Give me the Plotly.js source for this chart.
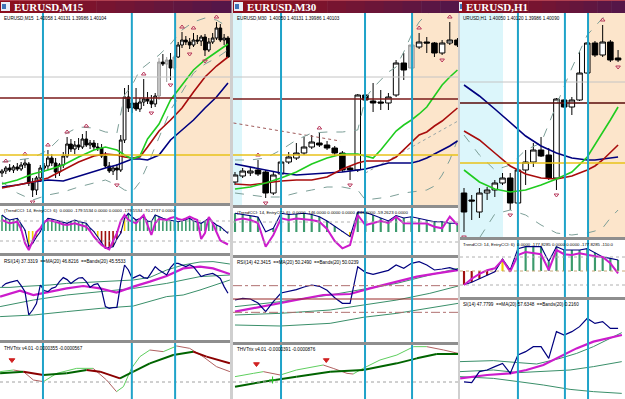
<!DOCTYPE html>
<html><head><meta charset="utf-8">
<script src="https://cdn.plot.ly/plotly-3.0.1.min.js"></script>
<style>html,body{margin:0;padding:0;background:#fff}#chart{width:625px;height:399px}</style>
</head><body><div id="chart"></div>
<script>
// ================= DATA : EURUSD M15 =================
const m15Open  = [1.3897,1.3899,1.3902,1.3900,1.3903,1.3901,1.3905,1.3906,1.3887,1.3880,1.3892,1.3902,1.3904,1.3912,1.3907,1.3898,1.3905,1.3914,1.3926,1.3921,1.3925,1.3923,1.3931,1.3925,1.3927,1.3923,1.3922,1.3914,1.3904,1.3899,1.3902,1.3900,1.3930,1.3973,1.3962,1.3967,1.3961,1.3968,1.3971,1.3969,1.3966,1.3974,1.4008,1.4006,1.4010,1.4002,1.4013,1.4025,1.4030,1.4028,1.4025,1.4030,1.4029,1.4033,1.4020,1.4028,1.4032,1.4042,1.4030,1.4032];
const m15High  = [1.3901,1.3904,1.3906,1.3905,1.3907,1.3908,1.3911,1.3908,1.3892,1.3894,1.3905,1.3907,1.3920,1.3916,1.3912,1.3907,1.3918,1.3933,1.3931,1.3929,1.3932,1.3936,1.3939,1.3930,1.3930,1.3927,1.3926,1.3918,1.3908,1.3904,1.3906,1.3935,1.3982,1.3985,1.3971,1.3982,1.3972,1.3991,1.3978,1.3975,1.3977,1.4012,1.4016,1.4013,1.4017,1.4015,1.4028,1.4038,1.4034,1.4032,1.4037,1.4035,1.4035,1.4036,1.4032,1.4037,1.4048,1.4046,1.4036,1.4034];
const m15Low   = [1.3893,1.3896,1.3898,1.3897,1.3899,1.3899,1.3902,1.3884,1.3873,1.3875,1.3888,1.3898,1.3900,1.3904,1.3892,1.3894,1.3902,1.3912,1.3918,1.3916,1.3920,1.3921,1.3923,1.3921,1.3920,1.3919,1.3912,1.3902,1.3897,1.3895,1.3890,1.3898,1.3927,1.3958,1.3957,1.3959,1.3958,1.3964,1.3966,1.3962,1.3963,1.3970,1.4004,1.3988,1.3990,1.4000,1.4012,1.4022,1.4025,1.4021,1.4023,1.4026,1.4024,1.4014,1.4018,1.4026,1.4030,1.4028,1.4025,1.4012];
const m15Close = [1.3899,1.3902,1.3900,1.3903,1.3901,1.3905,1.3907,1.3887,1.3880,1.3892,1.3902,1.3904,1.3912,1.3907,1.3898,1.3905,1.3914,1.3926,1.3921,1.3925,1.3923,1.3931,1.3925,1.3927,1.3923,1.3922,1.3914,1.3904,1.3899,1.3902,1.3900,1.3930,1.3973,1.3962,1.3967,1.3961,1.3968,1.3971,1.3969,1.3966,1.3974,1.4008,1.4006,1.4010,1.4002,1.4013,1.4025,1.4030,1.4028,1.4025,1.4030,1.4029,1.4033,1.4020,1.4028,1.4032,1.4042,1.4030,1.4032,1.4013];
const m15GrayBars = [41,43,45];
const m15FractalUp = [1,6,12,17,22,37,47,50,56];
const m15FractalDown = [8,30,39,44,49,53];
const m15MaX     = [0,4,8,12,16,20,24,27,30,32,34,36,38,41,44,47,50,53,56,59];
const m15MaFast  = [1.3886,1.3890,1.3896,1.3900,1.3905,1.3913,1.3920,1.3923,1.3920,1.3915,1.3911,1.3914,1.3931,1.3946,1.3970,1.3985,1.4000,1.4010,1.4018,1.4026];
const m15MaMid   = [1.3882,1.3885,1.3888,1.3892,1.3900,1.3908,1.3914,1.3916,1.3915,1.3913,1.3912,1.3913,1.3923,1.3939,1.3950,1.3962,1.3978,1.3993,1.4004,1.4013];
const m15MaSlow  = [1.3883,1.3885,1.3888,1.3890,1.3889,1.3894,1.3899,1.3902,1.3905,1.3908,1.3911,1.3911,1.3910,1.3915,1.3930,1.3940,1.3950,1.3962,1.3973,1.3987];
const m15BandUp  = [1.3908,1.3910,1.3912,1.3920,1.3935,1.3943,1.3942,1.3938,1.3937,1.3975,1.3985,1.4000,1.4006,1.4015,1.4026,1.4040,1.4048,1.4052,1.4050,1.4043];
const m15BandLow = [1.3888,1.3877,1.3870,1.3875,1.3878,1.3883,1.3887,1.3890,1.3885,1.3880,1.3878,1.3888,1.3905,1.3932,1.3960,1.3978,1.3997,1.4006,1.4012,1.4020];
const m15Levels  = [1.3993,1.3972,1.3915];          // gray, maroon, yellow
const m15Sessions = [10.7,33.9,45.2];
const m15PeachFrom = 45.2;
const m15TrendCci = [160,130,110,120,127,70,10,-157,-123,-60,-7,80,127,120,110,95,85,77,95,110,95,85,77,30,-7,-60,-120,-173,-165,-157,-80,-23,127,177,140,110,125,143,100,93,160,140,127,115,110,100,93,100,115,127,100,85,77,100,127,90,60,43,10,-23];
const m15EntryCci = [110,90,77,85,93,20,-120,-190,-107,-10,27,90,110,105,93,80,65,60,70,77,65,55,43,0,-57,-100,-140,-165,-183,-100,-23,100,160,110,90,77,120,160,60,-40,80,120,115,110,130,140,120,110,125,143,125,110,-80,-20,140,80,-10,-95,-115,-135];
const m15CciYellow = [7,8,9,24,25,32];
const m15CciGray = [59];
const m15Rsi = [40.5,42,42.6,43,43.6,41,38,26.3,28.8,32,41.3,38.5,38,39.6,40.3,43,45,44,42.1,43.5,44.8,45,43,40.1,41.5,42,38.8,30.5,29.6,30,30.1,42.1,51.3,48.8,44.6,45.5,46.3,45,44.6,47.5,50.5,48.8,47.5,46.3,50,52.1,52.1,51.3,50.5,51.5,50.5,48,45.5,46.3,46.8,47.1,46,44.6,40.5,37.2];
const m15RsiMaX = [-0.5,2.1,4.7,8.2,12.5,16.9,21.2,25.6,29.9,34.3,38.6,43,47.3,51.7,55.1,59.5];
const m15RsiMa  = [35.5,37.1,38.5,36.3,38,39.6,40.8,39.6,37.5,40.5,43,45.8,49.6,50.5,49.6,46.8];
const m15RsiBandUp = [40.1,40.1,40.5,40.8,41.3,42.1,42.5,43,43.5,43.8,45.1,48.8,51.3,52.8,53,51.8];
const m15RsiBandMidX = [-0.5,8.2,16.9,25.6,34.3,43,51.7,59.5];
const m15RsiBandMid  = [30.5,33.8,36.3,38,39.6,42.1,45.5,46.3];
const m15RsiBandLowX = [-0.5,8.2,16.9,25.6,34.3,43,47.3,51.7,59.5];
const m15RsiBandLow  = [25.5,26.3,28,29.6,30.8,35.5,36.3,38.8,43.8];
const m15TrixX = [-0.5,5.6,10.8,16.9,22.1,25.6,30.8,34.3,38.6,44.7,49.9,53.4,59.5];
const m15Trix  = [1.73,2.07,1.4,1.73,2.4,2.07,0.73,2.07,3.73,5.4,6.07,5.07,3.73];
const m15TrixSigX = [-0.5,3,5.6,8.2,10.8,14.3,19.5,23.8,27.3,29.9,31.7,33.8,36,38.6,42.1,45.6,49,52.5,56,59.5];
const m15TrixSig  = [2.07,2.4,2.07,0.4,0.07,1.73,2.73,2.73,0.4,-1.93,-0.93,2.73,5.07,6.4,6.07,7.2,6.73,5.07,3.07,2.07];
const m15TrixSell = [[2.6,4.4]];

// ================= DATA : EURUSD M30 =================
const m30Open  = [1.3888,1.3894,1.3897,1.3900,1.3898,1.3877,1.3896,1.3908,1.3912,1.3917,1.3923,1.3927,1.3925,1.3922,1.3917,1.3902,1.3900,1.3975,1.3969,1.3968,1.3967,1.3975,1.4007,1.4002,1.4023,1.4028,1.4027,1.4017,1.4027,1.4030];
const m30High  = [1.3898,1.3902,1.3903,1.3910,1.3900,1.3898,1.3910,1.3918,1.3927,1.3933,1.3935,1.3937,1.3929,1.3924,1.3919,1.3904,1.3976,1.3977,1.3987,1.3980,1.3977,1.4010,1.4017,1.4028,1.4037,1.4033,1.4028,1.4030,1.4048,1.4032];
const m30Low   = [1.3885,1.3892,1.3894,1.3894,1.3872,1.3875,1.3894,1.3906,1.3910,1.3915,1.3921,1.3923,1.3920,1.3914,1.3898,1.3890,1.3898,1.3968,1.3958,1.3960,1.3960,1.3973,1.3990,1.4000,1.4021,1.4017,1.4013,1.4015,1.4025,1.4023];
const m30Close = [1.3895,1.3899,1.3899,1.3896,1.3877,1.3895,1.3908,1.3913,1.3917,1.3923,1.3928,1.3925,1.3922,1.3917,1.3900,1.3900,1.3975,1.3970,1.3967,1.3967,1.3973,1.4007,1.4000,1.4025,1.4028,1.4027,1.4017,1.4027,1.4030,1.4025];
const m30GrayBars = [23];
const m30FractalUp = [3,11,24,28];
const m30FractalDown = [4,15,27];
const m30MaX     = [0,2,4,6,8,10,12,14,16,17,18,19,20,21,22,23,24,25,26,27,28,29];
const m30MaFast  = [1.3881,1.3883,1.3887,1.3892,1.3898,1.3906,1.3912,1.3916,1.3916,1.3914,1.3912,1.3920,1.3930,1.3939,1.3945,1.3950,1.3956,1.3963,1.3974,1.3985,1.3993,1.4000];
const m30MaMid   = [1.3886,1.3885,1.3887,1.3889,1.3890,1.3890,1.3893,1.3901,1.3907,1.3909,1.3909,1.3909,1.3909,1.3913,1.3920,1.3927,1.3935,1.3938,1.3944,1.3949,1.3956,1.3962];
const m30MaSlow  = [1.3906,1.3903,1.3900,1.3897,1.3895,1.3896,1.3897,1.3898,1.3900,1.3901,1.3903,1.3905,1.3907,1.3907,1.3907,1.3907,1.3909,1.3912,1.3916,1.3920,1.3924,1.3929];
const m30BandUp  = [1.3910,1.3910,1.3912,1.3920,1.3930,1.3937,1.3938,1.3938,1.3940,1.3972,1.3982,1.3990,1.3998,1.4003,1.4018,1.4035,1.4048,1.4056,1.4062,1.4066,1.4068,1.4070];
const m30BandLow = [1.3877,1.3875,1.3873,1.3873,1.3877,1.3880,1.3883,1.3883,1.3880,1.3870,1.3871,1.3872,1.3873,1.3875,1.3877,1.3878,1.3879,1.3880,1.3884,1.3895,1.3910,1.3930];
const m30TrendA = {x:[-0.2,13.7], y:[1.3947,1.3929]};
const m30TrendB = {x:[17,29.3], y:[1.3897,1.3950]};
const m30Levels  = [1.3993,1.3971,1.3915];
const m30Sessions = [6.0,16.95,23.08];
const m30CyanTo = 0.91;
const m30PeachFrom = 23.08;
const m30TrendCci = [187,175,160,150,3,37,187,175,180,187,175,153,110,60,10,-47,200,195,170,140,110,165,140,153,137,120,103,103,87,87];
const m30EntryCci = [120,135,120,90,-147,-30,137,120,135,130,120,103,30,-90,-163,-130,170,70,87,110,90,153,87,87,87,85,53,37,153,70];
const m30CciYellow = [15];
const m30Rsi = [49.25,50.5,50,47,40.5,48,54.5,55.5,57,59,60.5,59.5,56.5,51,46.75,46.75,74.25,70,68.5,70,71.5,75.5,73,76.75,78,75.5,71.75,72.5,73.5,71.75];
const m30RsiMaX = [0,3.7,8,11.5,15,17.6,21.1,23.7,26.3,29.1];
const m30RsiMa  = [40.5,44.75,49.25,53,53.75,58,63,66.75,69.25,71.75];
const m30RsiBandX = [0,5.9,12.4,16.7,21.1,25.4,29.1];
const m30RsiBandUp  = [44.25,48,53,57.25,61.75,68,73];
const m30RsiBandMid = [38,39.25,41.75,45.5,49.25,54.25,59.75];
const m30RsiBandLow = [30.5,29.75,31.75,36.25,39.25,43,46.75];
const m30RsiLevels = [60,50,40];
const m30TrixX = [0,3.7,8,12.4,16.7,21.1,23.7,26.3,29.1];
const m30Trix  = [-0.93,0.07,1.07,2.07,2.4,3.73,4.73,5.6,5.6];
const m30TrixSigX = [0,2.4,3.7,5.9,8,11.5,12.8,14.6,15.4,16.7,18.9,21.1,23.3,25,27.2,29.1];
const m30TrixSig  = [1.07,1.73,2.07,1.4,2.4,3.4,2.73,1.73,1.6,2.73,4.4,5.4,7.07,7.07,6.4,5.73];
const m30TrixSell = [[2.8,3.6],[11.9,4.4]];
const m30TrixBuy  = [[4.9,0.4]];

// ================= DATA : EURUSD H1 =================
const h1Open  = [1.3877,1.3870,1.3858,1.3877,1.3880,1.3887,1.3892,1.3867,1.3900,1.3908,1.3920,1.3915,1.3892,1.3970,1.3963,1.3970,1.3997,1.4027,1.4015,1.4028,1.4012];
const h1High  = [1.3882,1.3875,1.3882,1.3883,1.3890,1.3897,1.3897,1.3902,1.3920,1.3927,1.3933,1.3922,1.3972,1.3971,1.3973,1.4018,1.4028,1.4029,1.4045,1.4030,1.4020];
const h1Low   = [1.3838,1.3850,1.3852,1.3870,1.3873,1.3885,1.3860,1.3866,1.3885,1.3903,1.3913,1.3890,1.3880,1.3962,1.3955,1.3969,1.3996,1.4013,1.4013,1.4008,1.4008];
const h1Close = [1.3858,1.3869,1.3877,1.3880,1.3887,1.3892,1.3867,1.3900,1.3908,1.3920,1.3914,1.3892,1.3971,1.3963,1.3970,1.3997,1.4027,1.4015,1.4028,1.4010,1.4010];
const h1FractalUp = [18];
const h1FractalDown = [0,6,12,20];
const h1MaX    = [0,2,4,6,8,10,12,14,16,17,18,19,20];
const h1MaSlow = [1.3985,1.3974,1.3961,1.3947,1.3934,1.3924,1.3917,1.3912,1.3910,1.3910,1.3911,1.3912,1.3913];
const h1MaMid  = [1.3939,1.3930,1.3917,1.3904,1.3896,1.3892,1.3891,1.3894,1.3900,1.3904,1.3910,1.3918,1.3925];
const h1MaFast = [1.3900,1.3888,1.3881,1.3878,1.3880,1.3885,1.3891,1.3898,1.3913,1.3925,1.3937,1.3950,1.3963];
const h1BandUp  = [1.3935,1.3915,1.3900,1.3905,1.3920,1.3927,1.3965,1.4002,1.4035,1.4044,1.4052,1.4060,1.4065];
const h1BandLow = [1.3825,1.3832,1.3856,1.3860,1.3855,1.3845,1.3837,1.3835,1.3837,1.3839,1.3842,1.3852,1.3860];
const h1Levels  = [1.3988,1.3967,1.3907];
const h1Sessions = [7.0,13.1,16.1];
const h1CyanTo = 5.06;
const h1PeachFrom = 16.1;
const h1TrendCci = [-98,-80,-55,-30,-5,85,7,160,174,174,174,67,174,150,150,150,160,130,100,90,79];
const h1EntryCci = [-100,-55,-20,5,19,79,-5,114,135,130,120,7,150,120,114,126,114,105,100,55,-17];
const h1CciYellow = [5];
const h1Rsi = [34.5,33.9,42.7,44,46.7,49.3,41.3,56,58.7,62.7,62.7,53.3,74.7,72,74.7,78.7,85.3,81.3,82.7,77.3,77.3];
const h1RsiMaX = [-0.5,3,6,8.1,10.3,12.5,14.6,16.8,18.5,20.5];
const h1RsiMa  = [37.3,40,41.3,44,48,54.7,61.3,66.7,69.3,72];
const h1RsiBandUpX = [-0.52,3.81,7.06,9.44,12.47,14.63,16.8,18.96,20.48];
const h1RsiBandUp  = [50.7,51.5,49.9,48.8,53.3,57.3,62.7,69.3,73.9];
const h1RsiBandX   = [-0.52,3.81,7.06,10.3,13.77,16.8,20.48];
const h1RsiBandMid = [42.7,44,41.9,42.7,44,46.7,50.7];
const h1RsiBandLow = [38.7,37.3,34.7,32,28.5,26.7,25.3];

// ================= TEXT =================
const winTitles = ['EURUSD,M15','EURUSD,M30','EURUSD,H1'];
const mainLabels = ['EURUSD,M15  1.40058 1.40131 1.39986 1.40104','EURUSD,M30  1.40050 1.40131 1.39986 1.40103','URUSD,H1  1.40050 1.40120 1.39986 1.40090'];
const cciLabels = ['(TrendCCI: 14, EntryCCI: 6)  0.0000 -179.5534 0.0000 0.0000 -179.5534 -70.2737 0.0000','(TrendCCI: 14, EntryCCI: 6)  0.0000 -146.0000 0.0000 0.0000 -146.0000 -59.2623 0.0000','TrendCCI: 14, EntryCCI: 6)  0.0000 -177.8285 0.0000 0.0000 -177.8285 -110.0'];
const rsiLabels = ['RSI(14) 37.3319  ==MA(20) 46.8216  ==Bands(20) 45.5533','RSI(14) 42.3415  ==MA(20) 50.2490  ==Bands(20) 50.0239','SI(14) 47.7799  ==MA(20) 57.6348  ==Bands(20) 0.2160'];
const trixLabels = ['THVTrix v4.01 -0.0000355 -0.0000567','THVTrix v4.01 -0.0000391 -0.0000876'];

// ================= BUILD =================
const W = 625, H = 399;
const C = {green:'#1fcc1f', maroon:'#a80c0c', navy:'#00007f', band:'#7d9f98', magenta:'#cc1ccc', rsiBand:'#3a8f6a',
  cciG:'#3b9a6c', cciY:'#f0d000', cciR:'#a01010', fractal:'#b8385c', cyan:'#1fa3c9', peach:'#fce5cb', ice:'#dcf6fb'};
const idx = n => Array.from({length:n}, (_, i) => i);
const xAx = id => id === 1 ? 'x' : 'x' + id;
const yAx = id => id === 1 ? 'y' : 'y' + id;

// panel boxes (pixels): id, [left,right], [top,bottom], xrange, yrange
const panels = [
  [1, [0,230],   [13,203],  [-0.52,59.53], [1.3867,1.4057]],
  [2, [0,230],   [206,253], [-0.52,59.53], [-220,250]],
  [3, [0,230],   [256,340], [-0.52,59.53], [13.8,55.8]],
  [4, [0,230],   [343,399], [-0.52,59.53], [-3.4,7.8]],
  [5, [233,458], [13,205],  [-0.26,29.07], [1.3865,1.4057]],
  [6, [233,458], [208,255], [-0.26,29.07], [-230,240]],
  [7, [233,458], [258,342], [-0.26,29.07], [17.75,80.75]],
  [8, [233,458], [345,399], [-0.26,29.07], [-3.4,7.4]],
  [9, [460,625], [13,237],  [-0.52,20.9],  [1.3833,1.4057]],
  [10,[460,625], [240,297], [-0.52,20.9],  [-185.7,221.4]],
  [11,[460,625], [300,399], [-0.52,20.9],  [20.8,100]]
];

const layout = {width:W, height:H, margin:{l:0,r:0,t:0,b:0}, showlegend:false,
  paper_bgcolor:'#d4d4d4', plot_bgcolor:'#ffffff', boxgap:0.2, boxgroupgap:0.1,
  shapes:[], annotations:[], hovermode:false, dragmode:false};
panels.forEach(([id, xp, yp, xr, yr]) => {
  const xk = id === 1 ? 'xaxis' : 'xaxis' + id, yk = id === 1 ? 'yaxis' : 'yaxis' + id;
  layout[xk] = {domain:[xp[0]/W, xp[1]/W], range:xr, anchor:yAx(id), visible:false, fixedrange:true, rangeslider:{visible:false}};
  layout[yk] = {domain:[1-yp[1]/H, 1-yp[0]/H], range:yr, anchor:xAx(id), visible:false, fixedrange:true};
});

const traces = [];
function line(x, y, id, color, width, dash) {
  traces.push({type:'scatter', mode:'lines', x, y, xaxis:xAx(id), yaxis:yAx(id),
    line:{color, width, dash:dash||'solid'}, hoverinfo:'skip', connectgaps:false});
}
function candles(o, h, l, c, id, gray) {
  const all = idx(o.length);
  const sets = [[all.filter(i => !gray.includes(i)), '#000000', '#ffffff', '#000000'],
                [all.filter(i => gray.includes(i)), '#9a9a9a', '#c9c9c9', '#707070']];
  sets.forEach(([sel, lc, upFill, dnFill]) => {
    if (!sel.length) return;
    traces.push({type:'candlestick', x:sel, open:sel.map(i=>o[i]), high:sel.map(i=>h[i]), low:sel.map(i=>l[i]), close:sel.map(i=>c[i]),
      xaxis:xAx(id), yaxis:yAx(id), whiskerwidth:0, hoverinfo:'skip',
      increasing:{line:{color:lc,width:1}, fillcolor:upFill}, decreasing:{line:{color:lc,width:1}, fillcolor:dnFill}});
  });
}
function fractals(up, down, h, l, id) {
  traces.push({type:'scatter', mode:'markers', x:up, y:up.map(i=>h[i]+0.0005), xaxis:xAx(id), yaxis:yAx(id),
    marker:{symbol:'triangle-up-open', size:4, color:C.fractal, line:{width:1, color:C.fractal}}, hoverinfo:'skip'});
  traces.push({type:'scatter', mode:'markers', x:down, y:down.map(i=>l[i]-0.0005), xaxis:xAx(id), yaxis:yAx(id),
    marker:{symbol:'triangle-down-open', size:4, color:C.fractal, line:{width:1, color:C.fractal}}, hoverinfo:'skip'});
}
function hist(vals, id, width, yellow, gray) {
  const colors = vals.map((v,i) => (gray||[]).includes(i) ? '#a8a8a8' : yellow.includes(i) ? C.cciY : v < 0 ? C.cciR : C.cciG);
  traces.push({type:'bar', x:idx(vals.length), y:vals, xaxis:xAx(id), yaxis:yAx(id), width,
    marker:{color:colors, line:{width:0}}, hoverinfo:'skip'});
}
function slopeLine(x, y, id, upColor, downColor, width) {
  const up = {x:[], y:[]}, dn = {x:[], y:[]};
  for (let i = 0; i < x.length - 1; i++) {
    const t = y[i+1] >= y[i] ? up : dn;
    t.x.push(x[i], x[i+1], null); t.y.push(y[i], y[i+1], null);
  }
  line(up.x, up.y, id, upColor, width); line(dn.x, dn.y, id, downColor, width);
}
function marks(pts, id, symbol, color) {
  traces.push({type:'scatter', mode:'markers', x:pts.map(p=>p[0]), y:pts.map(p=>p[1]), xaxis:xAx(id), yaxis:yAx(id),
    marker:{symbol, size:5, color, line:{width:1, color}}, hoverinfo:'skip'});
}
function zone(id, x0, x1, color) {
  layout.shapes.push({type:'rect', xref:xAx(id), yref:yAx(id)+' domain', x0, x1, y0:0, y1:1, fillcolor:color, line:{width:0}, layer:'below'});
}
function hline(id, y, color, width, dash) {
  layout.shapes.push({type:'line', xref:xAx(id)+' domain', yref:yAx(id), x0:0, x1:1, y0:y, y1:y, line:{color, width, dash:dash||'solid'}, layer:'above'});
}
function vlines(id, xs) {
  xs.forEach(x => layout.shapes.push({type:'line', xref:xAx(id), yref:'paper', x0:x, x1:x, y0:0, y1:1-13/H, line:{color:C.cyan, width:2}, layer:'above'}));
}
function prect(x0, x1, y0, y1, color) {
  layout.shapes.push({type:'rect', xref:'paper', yref:'paper', x0:x0/W, x1:x1/W, y0:1-y1/H, y1:1-y0/H, fillcolor:color, line:{width:0}, layer:'above'});
}
function label(px, py, text, size) {
  layout.annotations.push({xref:'paper', yref:'paper', x:px/W, y:1-py/H, xanchor:'left', yanchor:'middle', showarrow:false,
    text, font:{family:'Liberation Sans, Arial', size:size||4.6, color:'#000'}});
}

// ----- window 1 : M15 -----
zone(1, m15PeachFrom, 59.53, C.peach);
hline(1, m15Levels[0], '#c4c4c4', 1); hline(1, m15Levels[1], '#7a1a1a', 1.5); hline(1, m15Levels[2], '#e9c21a', 1.5);
line(m15MaX, m15BandUp, 1, C.band, 1, 'dash'); line(m15MaX, m15BandLow, 1, C.band, 1, 'dash');
line(m15MaX, m15MaSlow, 1, C.navy, 1.6); line(m15MaX, m15MaMid, 1, C.maroon, 1.6); line(m15MaX, m15MaFast, 1, C.green, 1.6);
candles(m15Open, m15High, m15Low, m15Close, 1, m15GrayBars);
fractals(m15FractalUp, m15FractalDown, m15High, m15Low, 1);
hline(2, 100, '#b0b0b0', 1, 'dot'); hline(2, -100, '#b0b0b0', 1, 'dot');
hist(m15TrendCci, 2, 0.42, m15CciYellow, m15CciGray);
line(idx(60), m15TrendCci, 2, C.navy, 1.1); line(idx(60), m15EntryCci, 2, C.magenta, 2);
line(m15RsiBandLowX, m15RsiBandLow, 3, C.rsiBand, 1); line(m15RsiBandMidX, m15RsiBandMid, 3, C.rsiBand, 1); line(m15RsiMaX, m15RsiBandUp, 3, C.rsiBand, 1);
line(m15RsiMaX, m15RsiMa, 3, C.magenta, 2.2); line(idx(60), m15Rsi, 3, C.navy, 1.2);
hline(4, 0, '#a0a0a0', 1, 'dot');
slopeLine(m15TrixSigX, m15TrixSig, 4, '#5fcf5f', '#b06060', 1);
slopeLine(m15TrixX, m15Trix, 4, '#006400', '#8b0000', 2);
marks(m15TrixSell, 4, 'triangle-down', '#d02020');
vlines(1, m15Sessions);

// ----- window 2 : M30 -----
zone(5, -0.26, m30CyanTo, C.ice); zone(5, m30PeachFrom, 29.07, C.peach);
hline(5, m30Levels[0], '#c4c4c4', 1); hline(5, m30Levels[1], '#7a1a1a', 1.5); hline(5, m30Levels[2], '#e9c21a', 1.5);
line(m30TrendA.x, m30TrendA.y, 5, '#a05a5a', 1, 'dot'); line(m30TrendB.x, m30TrendB.y, 5, '#9aa6a6', 1, 'dot');
line(m30MaX, m30BandUp, 5, C.band, 1, 'dash'); line(m30MaX, m30BandLow, 5, C.band, 1, 'dash');
line(m30MaX, m30MaSlow, 5, C.navy, 1.6); line(m30MaX, m30MaMid, 5, C.maroon, 1.6); line(m30MaX, m30MaFast, 5, C.green, 1.6);
candles(m30Open, m30High, m30Low, m30Close, 5, m30GrayBars);
fractals(m30FractalUp, m30FractalDown, m30High, m30Low, 5);
hline(6, 100, '#b0b0b0', 1, 'dot'); hline(6, -100, '#b0b0b0', 1, 'dot');
hist(m30TrendCci, 6, 0.28, m30CciYellow);
line(idx(30), m30TrendCci, 6, C.navy, 1.1); line(idx(30), m30EntryCci, 6, C.magenta, 2);
hline(7, m30RsiLevels[0], '#b07070', 1, 'dashdot'); hline(7, m30RsiLevels[1], '#9a2a2a', 1.2); hline(7, m30RsiLevels[2], '#b07070', 1, 'dashdot');
line(m30RsiBandX, m30RsiBandLow, 7, C.rsiBand, 1); line(m30RsiBandX, m30RsiBandMid, 7, C.rsiBand, 1); line(m30RsiBandX, m30RsiBandUp, 7, C.rsiBand, 1);
line(m30RsiMaX, m30RsiMa, 7, C.magenta, 2.2); line(idx(30), m30Rsi, 7, C.navy, 1.2);
hline(8, 0, '#a0a0a0', 1, 'dot');
slopeLine(m30TrixSigX, m30TrixSig, 8, '#5fcf5f', '#b06060', 1);
slopeLine(m30TrixX, m30Trix, 8, '#006400', '#8b0000', 2);
marks(m30TrixSell, 8, 'triangle-down', '#d02020'); marks(m30TrixBuy, 8, 'cross-thin-open', '#20c020');
vlines(5, m30Sessions);

// ----- window 3 : H1 -----
zone(9, -0.52, h1CyanTo, C.ice); zone(9, h1PeachFrom, 20.9, C.peach);
hline(9, h1Levels[0], '#c4c4c4', 1); hline(9, h1Levels[1], '#5a0a0a', 1.5); hline(9, h1Levels[2], '#e9c21a', 1.5);
line(h1MaX, h1BandUp, 9, C.band, 1, 'dash'); line(h1MaX, h1BandLow, 9, C.band, 1, 'dash');
line(h1MaX, h1MaSlow, 9, C.navy, 1.6); line(h1MaX, h1MaMid, 9, C.maroon, 1.6); line(h1MaX, h1MaFast, 9, C.green, 1.6);
candles(h1Open, h1High, h1Low, h1Close, 9, []);
fractals(h1FractalUp, h1FractalDown, h1High, h1Low, 9);
hline(10, 100, '#b0b0b0', 1, 'dot'); hline(10, -100, '#b0b0b0', 1, 'dot'); hline(10, 0, '#c8a878', 1, 'dot');
hist(h1TrendCci, 10, 0.28, h1CciYellow);
line(idx(21), h1TrendCci, 10, C.navy, 1.1); line(idx(21), h1EntryCci, 10, C.magenta, 2);
line(h1RsiBandX, h1RsiBandLow, 11, C.rsiBand, 1); line(h1RsiBandX, h1RsiBandMid, 11, C.rsiBand, 1); line(h1RsiBandUpX, h1RsiBandUp, 11, C.rsiBand, 1);
line(h1RsiMaX, h1RsiMa, 11, C.magenta, 2.2); line(idx(21), h1Rsi, 11, C.navy, 1.2);
vlines(9, h1Sessions);

// ----- frame: separators, borders, title bars -----
[[0,230,[203,253,340]],[233,458,[205,255,342]],[460,625,[237,297]]].forEach(([a,b,ys]) => {
  ys.forEach(y => prect(a, b, y, y+3, '#8e8e8e'));
});
prect(230, 233, 13, 399, '#cfcfcf'); prect(458, 460, 13, 399, '#cfcfcf');
const bars = [[0,231],[233,459],[459,625]];
const grad = ['#8c0f1e','#891020','#851124','#811228','#7c132c','#771430','#721534','#6c1538','#66163c','#601640','#5a1644','#551648'];
bars.forEach(([a,b], w) => {
  const step = (b - a) / grad.length;
  grad.forEach((col, k) => prect(a + k*step, a + (k+1)*step + 0.5, 0, 13, col));
  prect(a, b, 0, 1, '#b04050');
});
// icons
[[1,10],[234,243],[459,462]].forEach(([a,b]) => { prect(a, b, 2, 11, '#e9eef7'); prect(a+1, Math.min(b, a+5), 4, 9, '#3f74b8'); });
[[12,6.8],[245,6.8],[464,6.8]].forEach(([px,py], w) => {
  layout.annotations.push({xref:'paper', yref:'paper', x:px/W, y:1-py/H, xanchor:'left', yanchor:'middle', showarrow:false,
    text:'<b>'+winTitles[w]+'</b>', font:{family:'Liberation Serif, Times New Roman', size:11, color:'#ffffff'}});
});

// ----- indicator labels -----
label(2, 18, mainLabels[0]); label(235, 18, mainLabels[1]); label(461, 18, mainLabels[2]);
label(2, 210, cciLabels[0], 4.3); label(235, 212, cciLabels[1], 4.3); label(461, 244, cciLabels[2], 4.3);
label(2, 261, rsiLabels[0]); label(235, 262, rsiLabels[1]); label(461, 304, rsiLabels[2]);
label(2, 348, trixLabels[0]); label(235, 349, trixLabels[1]);

Plotly.newPlot('chart', traces, layout, {staticPlot:true, displayModeBar:false});
</script>
</body></html>
